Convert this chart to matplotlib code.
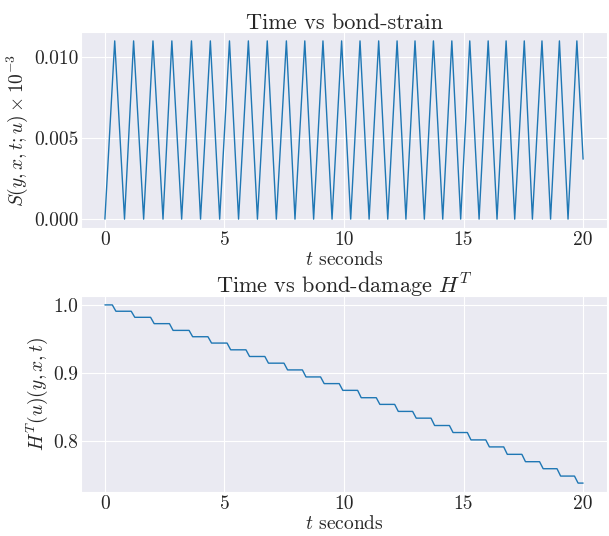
import matplotlib
matplotlib.use("Agg")
import matplotlib.pyplot as plt
import seaborn as sns

sns.set_style("darkgrid")
plt.rcParams["font.family"] = "serif"
plt.rcParams["font.serif"] = ["cmr10", "DejaVu Serif"]
plt.rcParams["mathtext.fontset"] = "cm"
plt.rcParams["axes.formatter.use_mathtext"] = True
plt.rcParams["axes.unicode_minus"] = False

# strain triangle wave: peak and trough times
peak_times = [0.41, 1.20, 2.01, 2.80, 3.62, 4.41, 5.21, 6.00, 6.79, 7.59,
              8.36, 9.12, 9.90, 10.67, 11.45, 12.22, 12.97, 13.74, 14.51,
              15.26, 16.03, 16.78, 17.54, 18.28, 19.01, 19.74]
trough_times = [0.82, 1.62, 2.43, 3.21, 4.00, 4.80, 5.59, 6.38, 7.17, 7.95,
                8.73, 9.50, 10.28, 11.05, 11.83, 12.59, 13.36, 14.13, 14.88,
                15.65, 16.40, 17.14, 17.88, 18.64, 19.37]
peak_strain = 0.011
end_time = 20.0
end_strain = 0.0037

# damage levels after each step
damage_levels = [1.0, 0.9907, 0.9818, 0.9725, 0.9626, 0.9533, 0.944, 0.9341,
                 0.9243, 0.9145, 0.9046, 0.8943, 0.8845, 0.8746, 0.8638, 0.854,
                 0.8437, 0.8338, 0.823, 0.8127, 0.8019, 0.7916, 0.7807, 0.7699,
                 0.7596, 0.7488, 0.7385]
step_before = 0.10
step_after = 0.05

x_ticks = [0, 5, 10, 15, 20]
x_tick_labels = ["0", "5", "10", "15", "20"]
s_ticks = [0.0, 0.005, 0.010]
s_tick_labels = ["0.000", "0.005", "0.010"]
h_ticks = [0.8, 0.9, 1.0]
h_tick_labels = ["0.8", "0.9", "1.0"]

# build strain series
t_s = [0.0]
s_s = [0.0]
for i, p in enumerate(peak_times):
    t_s.append(p); s_s.append(peak_strain)
    if i < len(trough_times):
        t_s.append(trough_times[i]); s_s.append(0.0)
t_s.append(end_time); s_s.append(end_strain)

# build damage series
t_h = [0.0]
h_h = [damage_levels[0]]
for i, p in enumerate(peak_times):
    t_h.append(p - step_before); h_h.append(damage_levels[i])
    t_h.append(p + step_after); h_h.append(damage_levels[i + 1])
t_h.append(end_time); h_h.append(damage_levels[-1])

fig = plt.figure(figsize=(6.09, 5.36), dpi=100)
ax1 = fig.add_axes([81/609, 1 - 228/536, (607-81)/609, (228-32)/536])
ax2 = fig.add_axes([81/609, 1 - 492/536, (607-81)/609, (492-296)/536])

c = "#1f77b4"
ax1.plot(t_s, s_s, color=c, lw=1.0)
ax2.plot(t_h, h_h, color=c, lw=1.0)

ax1.set_title("Time vs bond-strain", fontsize=16, pad=2)
ax1.set_xlabel(r"$t$ seconds", fontsize=14, labelpad=2)
ax1.set_ylabel(r"$S(y,x,t;u)\times 10^{-3}$", fontsize=14, labelpad=3)
ax1.set_yticks(s_ticks)
ax1.set_yticklabels(s_tick_labels)

ax2.set_title(r"Time vs bond-damage $H^T$", fontsize=16, pad=2)
ax2.set_xlabel(r"$t$ seconds", fontsize=14, labelpad=2)
ax2.set_ylabel(r"$H^T(u)(y,x,t)$", fontsize=14, labelpad=2)
ax2.set_yticks(h_ticks)
ax2.set_yticklabels(h_tick_labels)

for ax in (ax1, ax2):
    ax.set_xticks(x_ticks)
    ax.set_xticklabels(x_tick_labels)
    ax.tick_params(labelsize=14, length=0, pad=2)

fig.savefig("out.png", dpi=100)
